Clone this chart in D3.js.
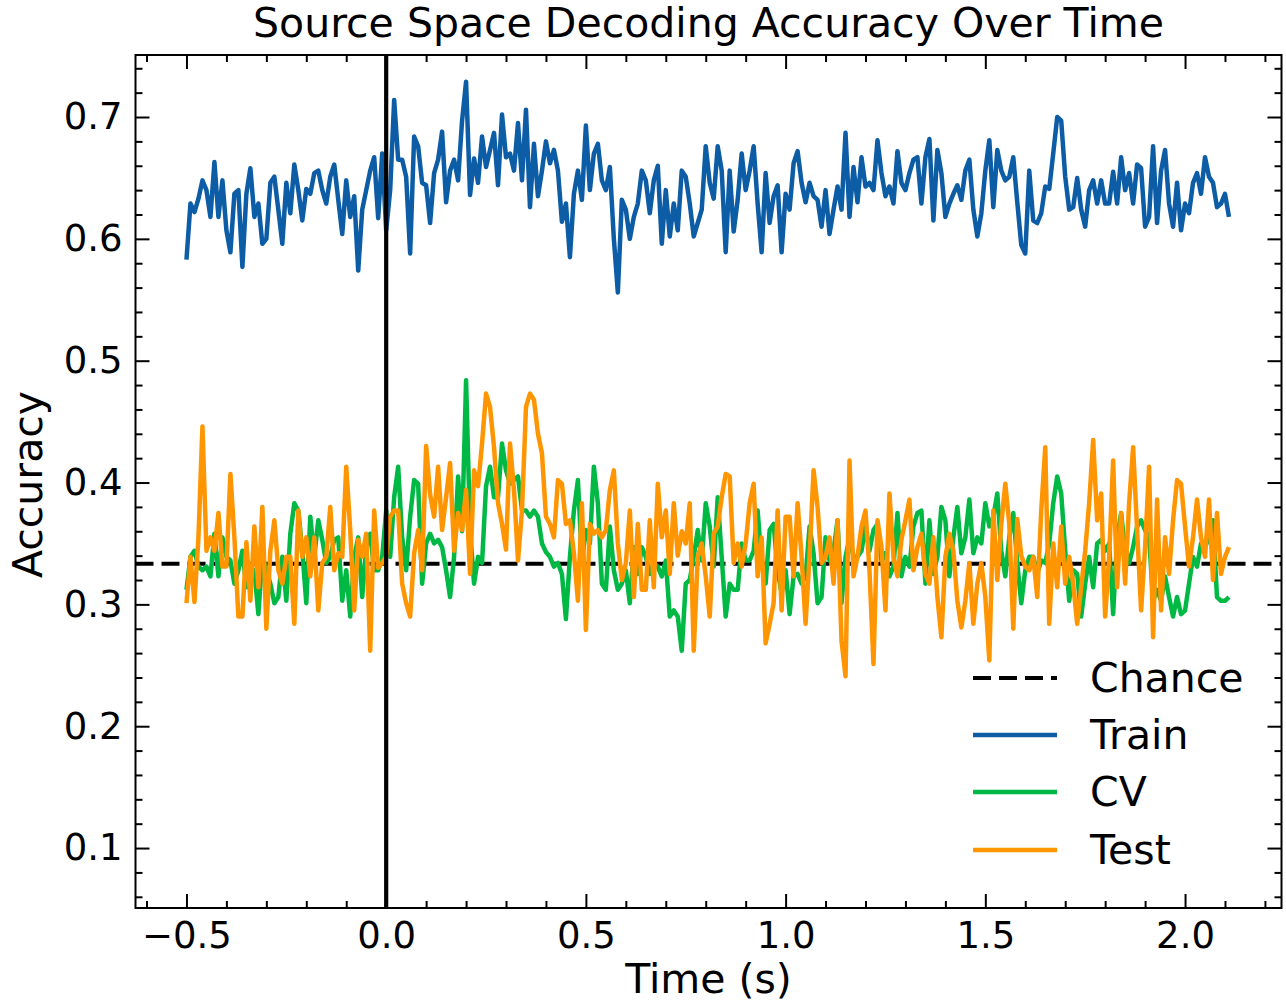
<!DOCTYPE html>
<html><head><meta charset="utf-8">
<script src="https://cdn.jsdelivr.net/npm/d3@7"></script>
<style>
body{margin:0;background:#fff;}
text{font-family:"DejaVu Sans",sans-serif;fill:#000;}
</style>
</head><body>
<svg id="c" width="1286" height="1003"></svg>
<script>
// ---- data ----
const timeStart = -0.5, timeStep = 0.01; // sampling grid, s
const chance = 1/3;
const seriesNames = ["Chance","Train","CV","Test"];
const train = [
0.583,0.629,0.622,0.633,0.648,0.640,0.618,0.663,0.618,0.648,
0.607,0.589,0.637,0.640,0.577,0.637,0.658,0.618,0.629,0.596,
0.600,0.646,0.651,0.624,0.596,0.646,0.621,0.661,0.640,0.615,
0.641,0.637,0.654,0.656,0.640,0.629,0.651,0.661,0.632,0.604,
0.648,0.618,0.635,0.574,0.624,0.640,0.656,0.667,0.617,0.670,
0.607,0.640,0.714,0.665,0.665,0.651,0.588,0.684,0.676,0.646,
0.644,0.613,0.654,0.665,0.688,0.630,0.656,0.665,0.648,0.697,
0.729,0.636,0.666,0.646,0.684,0.659,0.673,0.687,0.644,0.702,
0.667,0.670,0.656,0.695,0.648,0.706,0.626,0.678,0.635,0.656,
0.680,0.662,0.673,0.656,0.614,0.629,0.585,0.637,0.656,0.632,
0.693,0.640,0.670,0.678,0.648,0.640,0.659,0.600,0.556,0.632,
0.624,0.600,0.618,0.629,0.656,0.648,0.621,0.648,0.660,0.596,
0.640,0.602,0.629,0.607,0.656,0.651,0.629,0.602,0.613,0.624,
0.676,0.646,0.633,0.676,0.656,0.589,0.656,0.606,0.632,0.670,
0.640,0.656,0.676,0.629,0.589,0.654,0.613,0.635,0.644,0.589,
0.637,0.624,0.662,0.672,0.646,0.630,0.646,0.635,0.632,0.610,
0.640,0.604,0.624,0.643,0.624,0.687,0.618,0.659,0.630,0.667,
0.643,0.646,0.640,0.681,0.654,0.635,0.643,0.629,0.672,0.646,
0.640,0.654,0.665,0.667,0.629,0.667,0.682,0.615,0.673,0.654,
0.618,0.629,0.637,0.644,0.632,0.656,0.665,0.624,0.602,0.621,
0.656,0.681,0.626,0.673,0.656,0.648,0.651,0.667,0.630,0.595,
0.588,0.656,0.615,0.613,0.621,0.643,0.641,0.670,0.700,0.697,
0.651,0.624,0.626,0.650,0.624,0.610,0.640,0.648,0.629,0.648,
0.629,0.629,0.655,0.629,0.667,0.640,0.654,0.629,0.661,0.658,
0.610,0.618,0.676,0.613,0.656,0.673,0.629,0.610,0.646,0.607,
0.629,0.621,0.646,0.654,0.637,0.667,0.651,0.646,0.626,0.629,
0.637,0.618];
const cv = [
0.312,0.339,0.344,0.331,0.328,0.331,0.323,0.358,0.323,0.355,
0.339,0.336,0.317,0.328,0.344,0.314,0.323,0.328,0.292,0.339,
0.328,0.317,0.301,0.306,0.339,0.303,0.358,0.383,0.377,0.344,
0.301,0.372,0.339,0.369,0.353,0.334,0.339,0.353,0.355,0.303,
0.328,0.290,0.339,0.355,0.306,0.347,0.358,0.328,0.328,0.339,
0.377,0.339,0.388,0.413,0.355,0.328,0.372,0.402,0.399,0.317,
0.350,0.358,0.350,0.353,0.347,0.328,0.306,0.339,0.405,0.360,
0.484,0.361,0.317,0.339,0.334,0.397,0.413,0.388,0.388,0.432,
0.410,0.399,0.402,0.405,0.377,0.377,0.372,0.377,0.372,0.350,
0.343,0.339,0.331,0.334,0.325,0.288,0.339,0.377,0.402,0.336,
0.361,0.350,0.413,0.383,0.317,0.312,0.364,0.328,0.312,0.317,
0.328,0.301,0.347,0.325,0.347,0.339,0.325,0.334,0.331,0.323,
0.336,0.290,0.295,0.290,0.262,0.317,0.320,0.339,0.361,0.336,
0.383,0.364,0.331,0.388,0.339,0.290,0.317,0.312,0.312,0.350,
0.336,0.336,0.344,0.377,0.334,0.317,0.361,0.366,0.328,0.309,
0.328,0.292,0.323,0.325,0.317,0.323,0.364,0.342,0.301,0.306,
0.355,0.336,0.344,0.369,0.301,0.339,0.355,0.339,0.339,0.344,
0.364,0.344,0.361,0.366,0.336,0.342,0.323,0.331,0.375,0.323,
0.339,0.331,0.364,0.375,0.377,0.317,0.369,0.325,0.339,0.380,
0.369,0.323,0.355,0.380,0.342,0.355,0.386,0.342,0.355,0.350,
0.383,0.364,0.372,0.391,0.344,0.323,0.355,0.375,0.334,0.301,
0.328,0.339,0.339,0.325,0.336,0.334,0.350,0.383,0.405,0.391,
0.344,0.303,0.328,0.325,0.290,0.317,0.339,0.314,0.350,0.353,
0.344,0.350,0.292,0.355,0.375,0.344,0.334,0.347,0.364,0.369,
0.361,0.355,0.303,0.312,0.303,0.323,0.306,0.290,0.306,0.292,
0.295,0.317,0.339,0.331,0.350,0.347,0.355,0.369,0.306,0.303,
0.303,0.306];
const test = [
0.301,0.339,0.302,0.355,0.446,0.344,0.355,0.344,0.375,0.331,
0.331,0.407,0.355,0.290,0.290,0.351,0.303,0.364,0.314,0.380,
0.280,0.344,0.369,0.328,0.317,0.339,0.339,0.284,0.377,0.339,
0.355,0.323,0.355,0.295,0.334,0.339,0.380,0.328,0.342,0.339,
0.413,0.361,0.295,0.353,0.339,0.358,0.262,0.377,0.330,0.334,
0.339,0.372,0.377,0.377,0.317,0.301,0.290,0.342,0.361,0.328,
0.430,0.390,0.372,0.413,0.361,0.388,0.416,0.344,0.375,0.361,
0.394,0.325,0.410,0.397,0.432,0.473,0.462,0.429,0.383,0.366,
0.345,0.432,0.394,0.336,0.377,0.462,0.473,0.468,0.440,0.424,
0.372,0.366,0.355,0.402,0.399,0.366,0.369,0.342,0.303,0.383,
0.279,0.366,0.358,0.361,0.355,0.361,0.394,0.410,0.350,0.320,
0.334,0.377,0.306,0.366,0.312,0.312,0.369,0.314,0.399,0.355,
0.377,0.325,0.383,0.340,0.360,0.350,0.383,0.262,0.339,0.350,
0.323,0.290,0.358,0.364,0.388,0.407,0.405,0.334,0.350,0.331,
0.350,0.383,0.399,0.323,0.355,0.268,0.284,0.301,0.377,0.295,
0.372,0.372,0.323,0.383,0.339,0.284,0.340,0.410,0.380,0.334,
0.339,0.355,0.317,0.369,0.270,0.241,0.418,0.323,0.339,0.364,
0.377,0.328,0.251,0.369,0.347,0.295,0.391,0.339,0.323,0.353,
0.369,0.386,0.328,0.347,0.358,0.325,0.317,0.355,0.306,0.273,
0.339,0.358,0.344,0.303,0.281,0.303,0.334,0.284,0.317,0.334,
0.306,0.254,0.377,0.320,0.366,0.399,0.366,0.280,0.370,0.340,
0.331,0.328,0.339,0.306,0.377,0.429,0.284,0.350,0.314,0.364,
0.317,0.339,0.317,0.284,0.314,0.344,0.383,0.435,0.369,0.391,
0.290,0.339,0.418,0.314,0.375,0.317,0.383,0.429,0.361,0.295,
0.347,0.413,0.273,0.386,0.295,0.355,0.325,0.369,0.402,0.399,
0.364,0.331,0.355,0.386,0.355,0.339,0.386,0.320,0.375,0.325,
0.339,0.347];
const xTickValues = [-0.5,0,0.5,1.0,1.5,2.0];
const yTickValues = [0.1,0.2,0.3,0.4,0.5,0.6,0.7];
const titleText = "Source Space Decoding Accuracy Over Time";
const xLabelText = "Time (s)";
const yLabelText = "Accuracy";

// ---- drawing ----
const colors = {Chance:"#000000", Train:"#0C5DA5", CV:"#00B945", Test:"#FF9500"};
const L=135.5, R=1281.5, T=55, B=908;
const svg = d3.select("#c");
const x = d3.scaleLinear().domain([-0.6276, 2.2415]).range([L, R]);
const y = d3.scaleLinear().domain([0.0508, 0.7509]).range([B, T]);
const times = d3.range(train.length).map(i => +(timeStart + i*timeStep).toFixed(3));

svg.append("defs").append("clipPath").attr("id","clip")
  .append("rect").attr("x",L).attr("y",T).attr("width",R-L).attr("height",B-T);

const plot = svg.append("g").attr("clip-path","url(#clip)");
const line = d3.line().x((d,i)=>x(times[i])).y(d=>y(d));
const lw = 4.5;

// chance line
plot.append("line").attr("x1",L).attr("x2",R).attr("y1",y(chance)).attr("y2",y(chance))
  .attr("stroke",colors.Chance).attr("stroke-width",4).attr("stroke-dasharray","18,8");

[["Train",train],["CV",cv],["Test",test]].forEach(([n,arr])=>{
  plot.append("path").datum(arr).attr("d",line).attr("fill","none")
    .attr("stroke",colors[n]).attr("stroke-width",lw).attr("stroke-linejoin","round");
});

// vertical line at stimulus onset
plot.append("line").attr("x1",x(0)).attr("x2",x(0)).attr("y1",T).attr("y2",B)
  .attr("stroke","#000").attr("stroke-width",4.2);

// axes
const fs = 37;
const xMinor = d3.range(-6,23).map(v=>v/10).filter(v=>Math.abs(v*2-Math.round(v*2))>1e-6);
const yMinor = d3.range(3,38).map(v=>v/50).filter(v=>Math.abs(v*10-Math.round(v*10))>1e-6);

function styleAxis(g){
  g.select(".domain").remove();
  g.selectAll(".tick line").attr("stroke","#000").attr("stroke-width",2);
  g.selectAll("text").style("font-size",fs+"px").style("font-family","'DejaVu Sans',sans-serif");
}
const fmt = d3.format(".1f");
svg.append("g").attr("transform",`translate(0,${B})`)
  .call(d3.axisBottom(x).tickValues(xTickValues).tickFormat(fmt).tickSize(-14).tickPadding(14))
  .call(styleAxis);
svg.append("g").attr("transform",`translate(0,${B})`)
  .call(d3.axisBottom(x).tickValues(xMinor).tickFormat("").tickSize(-7)).call(styleAxis);
svg.append("g").attr("transform",`translate(0,${T})`)
  .call(d3.axisTop(x).tickValues(xTickValues).tickFormat("").tickSize(-14)).call(styleAxis);
svg.append("g").attr("transform",`translate(0,${T})`)
  .call(d3.axisTop(x).tickValues(xMinor).tickFormat("").tickSize(-7)).call(styleAxis);

svg.append("g").attr("transform",`translate(${L},0)`)
  .call(d3.axisLeft(y).tickValues(yTickValues).tickFormat(fmt).tickSize(-14).tickPadding(13))
  .call(styleAxis);
svg.append("g").attr("transform",`translate(${L},0)`)
  .call(d3.axisLeft(y).tickValues(yMinor).tickFormat("").tickSize(-7)).call(styleAxis);
svg.append("g").attr("transform",`translate(${R},0)`)
  .call(d3.axisRight(y).tickValues(yTickValues).tickFormat("").tickSize(-14)).call(styleAxis);
svg.append("g").attr("transform",`translate(${R},0)`)
  .call(d3.axisRight(y).tickValues(yMinor).tickFormat("").tickSize(-7)).call(styleAxis);

// frame
svg.append("rect").attr("x",L).attr("y",T).attr("width",R-L).attr("height",B-T)
  .attr("fill","none").attr("stroke","#000").attr("stroke-width",2);

// labels
const lf = "41px";
svg.append("text").attr("x",(L+R)/2).attr("y",37).attr("text-anchor","middle")
  .style("font-size",lf).text(titleText);
svg.append("text").attr("x",(L+R)/2).attr("y",993).attr("text-anchor","middle")
  .style("font-size",lf).text(xLabelText);
svg.append("text").attr("transform",`translate(42,${(T+B)/2+3}) rotate(-90)`).attr("text-anchor","middle")
  .style("font-size",lf).text(yLabelText);

// legend
const legY = [678,735,792,850];
const leg = svg.append("g");
seriesNames.forEach((n,i)=>{
  leg.append("line").attr("x1",973).attr("x2",1057).attr("y1",legY[i]).attr("y2",legY[i])
    .attr("stroke",colors[n]).attr("stroke-width",n==="Chance"?4:lw)
    .attr("stroke-dasharray", n==="Chance" ? "18,8" : null);
  leg.append("text").attr("x",1090).attr("y",legY[i]+14).style("font-size",lf).text(n);
});
</script>
</body></html>
